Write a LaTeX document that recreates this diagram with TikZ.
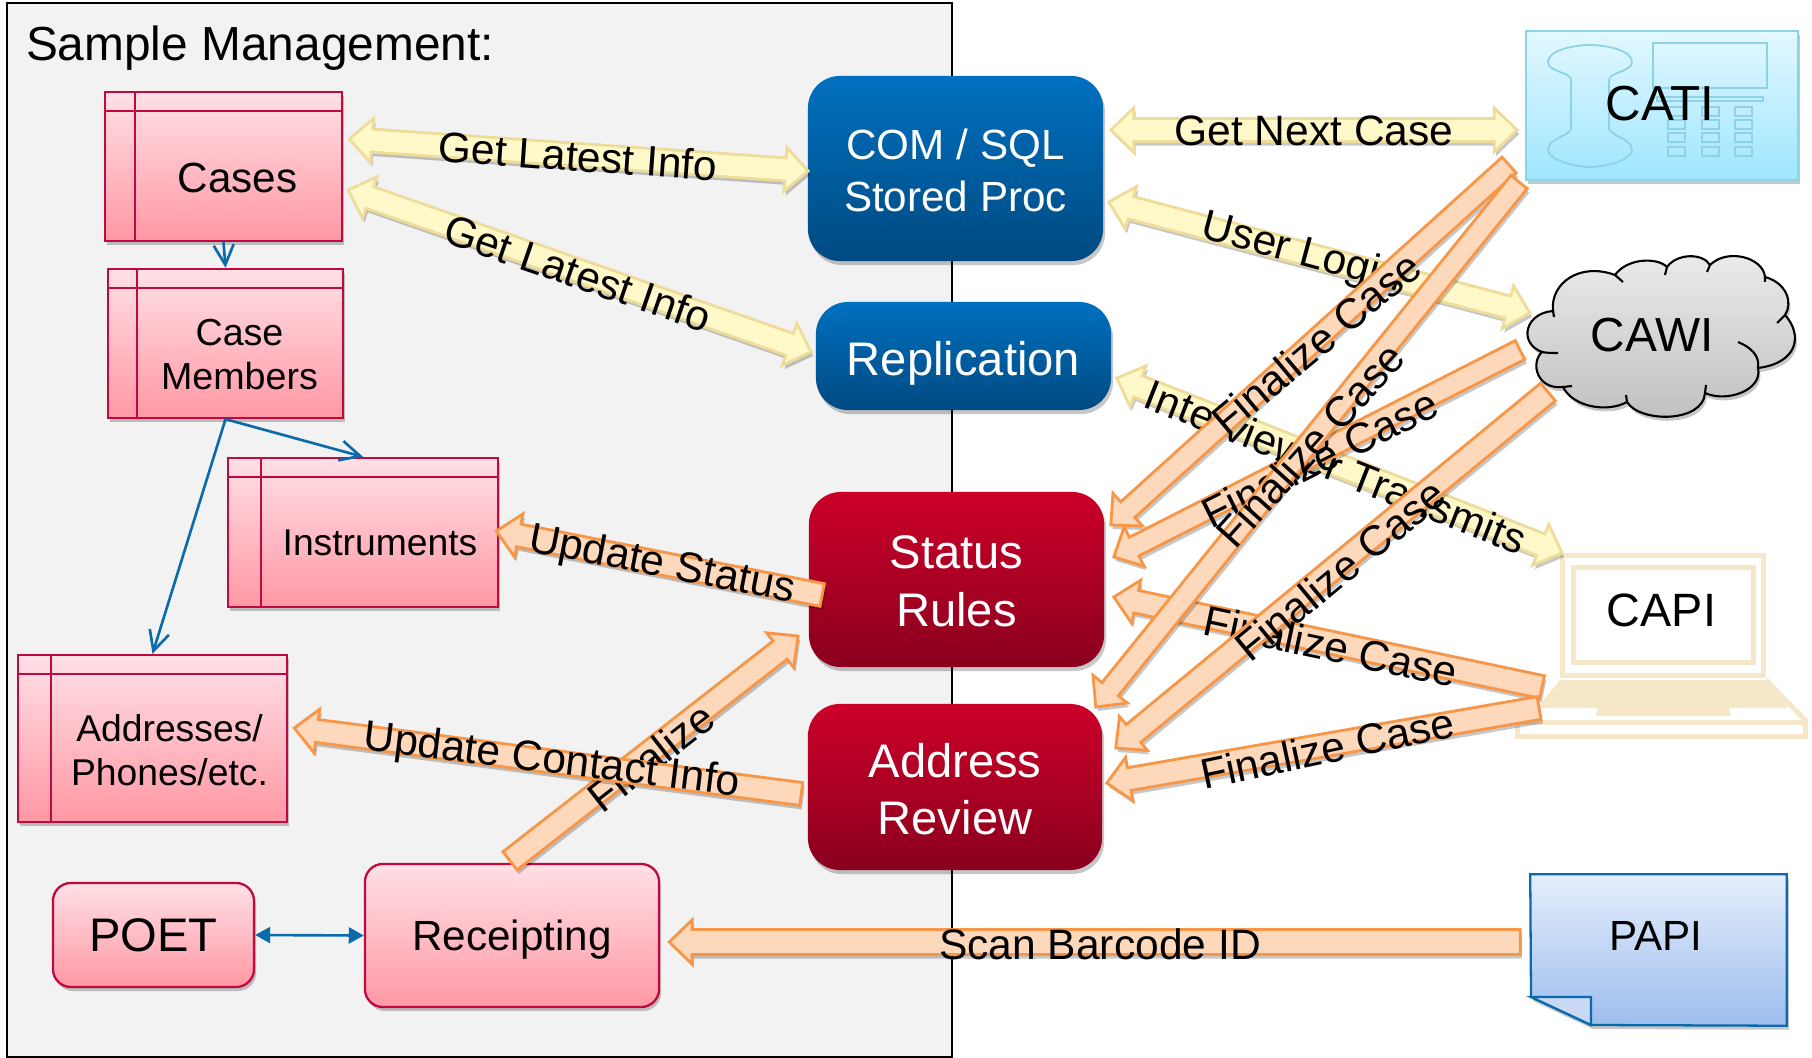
\documentclass[tikz,border=0pt]{standalone}
\usepackage{fontspec}
\setmainfont{Liberation Sans}
\usepackage{tikz}
\usetikzlibrary{calc}
\usetikzlibrary{positioning, shadows, arrows.meta}
\definecolor{panel_gray}{HTML}{F2F2F2}
\definecolor{table_red}{HTML}{BE0A40}
\definecolor{pink_top}{HTML}{FFE0E6}
\definecolor{pink_bot}{HTML}{FF98A4}
\definecolor{blue_top}{HTML}{0070C0}
\definecolor{blue_bot}{HTML}{004A80}
\definecolor{red_top}{HTML}{CC0029}
\definecolor{red_bot}{HTML}{8A001E}
\definecolor{link_blue}{HTML}{0A6AAA}
\definecolor{yellow_line}{HTML}{EEDC9A}
\definecolor{yellow_fill}{HTML}{FFF8C8}
\definecolor{orange_line}{HTML}{F79646}
\definecolor{orange_fill}{HTML}{FDD8BA}
\definecolor{phone_line}{HTML}{8ED2E6}
\definecolor{phone_top}{HTML}{E2F8FF}
\definecolor{phone_bot}{HTML}{9FE6FF}
\definecolor{sheet_top}{HTML}{E6EEFC}
\definecolor{sheet_bot}{HTML}{9DBDEE}
\definecolor{sheet_fold}{HTML}{C8D8F5}
\definecolor{laptop_col}{HTML}{F5E7C8}
\begin{document}
\begin{tikzpicture}[x=.01cm,y=-.01cm,
	soft_shadow/.style={drop shadow={shadow xshift=.02cm,shadow yshift=-.04cm,fill=black,opacity=.22}},
	table_node/.style={rectangle,draw=table_red,line width=.65pt,top color=pink_top,bottom color=pink_bot,inner sep=0pt,soft_shadow,
		path picture={\draw[table_red,line width=.65pt] ($(path picture bounding box.north west)+(#1,0)$) -- ($(path picture bounding box.south west)+(#1,0)$)
			($(path picture bounding box.north west)+(0,19)$) -- ($(path picture bounding box.north east)+(0,19)$);}},
	table_node/.default=30,
	pink_node/.style={rectangle,rounded corners=.18cm,draw=table_red,line width=.65pt,top color=pink_top,bottom color=pink_bot,soft_shadow},
	blue_node/.style={rectangle,rounded corners=.32cm,draw=none,top color=blue_top,bottom color=blue_bot,soft_shadow},
	red_node/.style={rectangle,rounded corners=.32cm,draw=none,top color=red_top,bottom color=red_bot,soft_shadow},
	big_text/.style={font=\fontsize{13.4}{16.4}\selectfont,align=center},
	mid_text/.style={font=\fontsize{12}{14.8}\selectfont,align=center},
	small_text/.style={font=\fontsize{10.6}{12.6}\selectfont,align=center},
	arrow_text/.style={font=\fontsize{12.1}{14}\selectfont,inner sep=0pt},
	link/.style={link_blue,line width=.75pt},
	yellow_arrow/.style={draw=yellow_line,fill=yellow_fill,line width=.8pt,soft_shadow},
	orange_arrow/.style={draw=orange_line,fill=orange_fill,line width=.8pt,soft_shadow},
	block_single/.style={to path={let \p1=(\tikztostart),\p2=(\tikztotarget),\n1={atan2(\y2-\y1,\x2-\x1)},\n2={veclen(\x2-\x1,\y2-\y1)},\n3={\n2-6.5} in
		{[shift={(\p1)},rotate=\n1] (0pt,-#1) -- (\n3,-#1) -- (\n3,-.22cm) -- (\n2,0pt) -- (\n3,.22cm) -- (\n3,#1) -- (0pt,#1) -- cycle}}},
	block_single/.default=.115cm,
	block_double/.style={to path={let \p1=(\tikztostart),\p2=(\tikztotarget),\n1={atan2(\y2-\y1,\x2-\x1)},\n2={veclen(\x2-\x1,\y2-\y1)},\n3={\n2-6.5} in
		{[shift={(\p1)},rotate=\n1] (0pt,0pt) -- (6.5pt,-.22cm) -- (6.5pt,-.115cm) -- (\n3,-.115cm) -- (\n3,-.22cm) -- (\n2,0pt) -- (\n3,.22cm) -- (\n3,.115cm) -- (6.5pt,.115cm) -- (6.5pt,.22cm) -- cycle}}}]

	\useasboundingbox (0,0) rectangle (1812,1058);

	% sample management panel
	\node[rectangle,draw=black,line width=.55pt,fill=panel_gray,minimum width=9.45cm,minimum height=10.54cm] (panel) at (479.5,530) {};
	\node[font=\fontsize{13.6}{16}\selectfont,inner sep=0pt] (title) at (260,48) {Sample Management:};

	% tables
	\node[table_node,minimum width=2.37cm,minimum height=1.49cm,label={[mid_text,xshift=.14cm,yshift=-.11cm]center:Cases}] (cases) at (223.5,166.5) {};
	\node[table_node=29,minimum width=2.35cm,minimum height=1.49cm,label={[small_text,font=\fontsize{10.7}{12.6}\selectfont,xshift=.14cm,yshift=-.11cm]center:Case\\Members}] (members) at (225.5,343.5) {};
	\node[table_node=33,minimum width=2.7cm,minimum height=1.49cm,label={[small_text,xshift=.17cm,yshift=-.1cm]center:Instruments}] (instruments) at (363,532.5) {};
	\node[table_node=33,minimum width=2.69cm,minimum height=1.67cm,label={[small_text,xshift=.17cm,yshift=-.12cm]center:Addresses/\\Phones/etc.}] (addresses) at (152.5,738.5) {};

	\node[pink_node,minimum width=2.01cm,minimum height=1.04cm,big_text] (poet) at (153.5,935) {POET};
	\node[pink_node,minimum width=2.94cm,minimum height=1.43cm,mid_text,text depth=0pt] (receipting) at (512,935.5) {Receipting};

	% stored procs and rules
	\node[blue_node,minimum width=2.95cm,minimum height=1.85cm,label={[mid_text,text=white,yshift=-.02cm]center:COM / SQL\\Stored Proc}] (com) at (955.5,168.5) {};
	\node[blue_node,minimum width=2.95cm,minimum height=1.08cm,label={[big_text,text=white,text depth=0pt,yshift=-.02cm]center:Replication}] (replication) at (963.5,356) {};
	\node[red_node,minimum width=2.95cm,minimum height=1.75cm,label={[big_text,text=white,yshift=-.02cm]center:Status\\Rules}] (status) at (956.5,579.5) {};
	\node[red_node,minimum width=2.94cm,minimum height=1.66cm,label={[big_text,text=white,yshift=-.02cm]center:Address\\Review}] (review) at (955,787) {};

	% CATI with the phone
	\node[rectangle,draw=phone_line,line width=.5pt,top color=phone_top,bottom color=phone_bot,minimum width=2.72cm,minimum height=1.49cm,soft_shadow] (cati) at (1662,105.5) {};
	\draw[phone_line,line width=.5pt] (1571,80) .. controls (1571,72) and (1548,72) .. (1548,62) .. controls (1548,50) and (1575,45) .. (1590,45) .. controls (1605,45) and (1632,50) .. (1632,62) .. controls (1632,72) and (1609,72) .. (1609,80) -- (1609,128) .. controls (1609,136) and (1632,138) .. (1632,150) .. controls (1632,160) and (1605,167) .. (1590,167) .. controls (1575,167) and (1548,160) .. (1548,150) .. controls (1548,138) and (1571,136) .. (1571,128) -- cycle;
	\draw[phone_line,line width=.5pt] (1653,43) rectangle (1767,88) (1657,97) rectangle (1763,101);
	\foreach \keyx in {1668,1702,1735}
		\foreach \keyy in {107,120,133,147}
			\draw[phone_line,line width=.5pt] (\keyx,\keyy) rectangle ++(17,9);
	\node[font=\fontsize{14}{16}\selectfont,inner sep=0pt] (catitext) at (1660,104) {CATI};

	% CAWI cloud
	\path[draw=black,line width=.6pt,top color=gray!15,bottom color=gray!50,soft_shadow] (1553,311)
		.. controls (1550,283) and (1580,262) .. (1615,275)
		.. controls (1627,258) and (1657,257) .. (1667,267)
		.. controls (1677,253) and (1703,253) .. (1710,265)
		.. controls (1727,248) and (1763,257) .. (1765,277)
		.. controls (1787,283) and (1793,303) .. (1785,315)
		.. controls (1803,335) and (1798,363) .. (1758,368)
		.. controls (1763,390) and (1727,403) .. (1705,393)
		.. controls (1703,423) and (1640,423) .. (1627,402)
		.. controls (1607,413) and (1573,407) .. (1563,387)
		.. controls (1537,390) and (1530,363) .. (1542,352)
		.. controls (1518,343) and (1525,313) .. (1553,311) -- cycle;
	\draw[black,line width=.6pt] (1615,275) -- (1623,282) (1667,267) -- (1665,275) (1710,265) -- (1707,272) (1765,277) -- (1765,282) (1785,315) -- (1777,323)
		(1758,368) .. controls (1760,355) and (1750,347) .. (1738,342) (1705,393) -- (1706,385) (1627,402) -- (1626,395) (1563,387) -- (1572,386)
		(1542,352) .. controls (1547,353) and (1552,353) .. (1558,353) (1553,311) -- (1554,317);
	\node[font=\fontsize{13.6}{16}\selectfont,inner sep=0pt] (cawi) at (1652,335) {CAWI};

	% CAPI laptop
	\draw[draw=laptop_col,line width=1.35pt] (1562.5,555.5) rectangle (1763.5,675.5);
	\node[rectangle,draw=laptop_col,line width=1.35pt,minimum width=1.8cm,minimum height=.95cm,inner sep=0pt,label={[font=\fontsize{13.3}{15}\selectfont,xshift=-.02cm,yshift=.05cm]center:CAPI}] (capi) at (1663.5,615) {};
	\fill[laptop_col] (1560,680) -- (1766,680) -- (1788,708) -- (1537,708) -- cycle;
	\fill[laptop_col] (1598,708) -- (1729,708) -- (1731,716) -- (1596,716) -- cycle;
	\draw[draw=laptop_col,line width=1.35pt] (1517.5,722.5) rectangle (1805.5,736.5) (1766,680) -- (1807,722);

	% PAPI sheet
	\node[rectangle,minimum width=2.55cm,minimum height=1.5cm,inner sep=0pt] (papi) at (1658.5,950) {};
	\path[draw=link_blue,line width=.65pt,top color=sheet_top,bottom color=sheet_bot,soft_shadow] (papi.north west) -- (papi.north east) -- (papi.south east) -- (1591,1025) -- (1531,997) -- cycle;
	\path[draw=link_blue,line width=.65pt,fill=sheet_fold] (1531,997) -- (1591,997) -- (1591,1025) -- cycle;
	\node[font=\fontsize{12}{14}\selectfont,inner sep=0pt] (papitext) at (1656,936) {PAPI};

	% table links
	\draw[link,-{Straight Barb[length=.2cm,width=.2cm]}] (cases.south) -- (members.north);
	\draw[link,-{Straight Barb[length=.2cm,width=.2cm]}] (members.south) -- (instruments.north);
	\draw[link,-{Straight Barb[length=.2cm,width=.2cm]}] (members.south) -- (addresses.north);
	\draw[link,{Triangle[length=.15cm,width=.16cm]}-{Triangle[length=.15cm,width=.16cm]}] (poet.east) -- (receipting.west);

	% yellow arrows
	\draw[yellow_arrow,block_double] ([shift={(6,-27.5)}]cases.east) to ([shift={(1,2.5)}]com.west);
	\node[arrow_text,rotate=-4] (latest_a) at (578,156) {Get Latest Info};
	\draw[yellow_arrow,block_double] ([shift={(5,23.5)}]cases.east) to ([shift={(-4,-4)}]replication.west);
	\node[arrow_text,rotate=-19] (latest_b) at (578,273) {Get Latest Info};
	\draw[yellow_arrow,block_double] ([shift={(7,-38.5)}]com.east) to ([shift={(-8,24.5)}]cati.west);
	\node[arrow_text] (nextcase) at (1314,131) {Get Next Case};
	\draw[yellow_arrow,block_double] ([shift={(5,33.5)}]com.east) to ([shift={(-122,-22)}]cawi.center);
	\node[arrow_text,rotate=-15] (login) at (1302,254) {User Login};
	\draw[yellow_arrow,block_double] ([shift={(5,22)}]replication.east) to ([shift={(-9,-12)}]capi.north west);
	\node[arrow_text,rotate=-21.5] (transmits) at (1336,467) {Interviewer Transmits};

	% orange arrows
	\draw[orange_arrow,block_single] ([shift={(14,15.5)}]status.west) to ([shift={(-3,-1.5)}]instruments.east);
	\node[arrow_text,rotate=-11] (update_a) at (662,566) {Update Status};
	\draw[orange_arrow,block_single] ([shift={(-2,-2)}]receipting.north) to ([shift={(-10,56.5)}]status.west);
	\node[arrow_text,rotate=38] (finalize) at (651,757) {Finalize};
	\draw[orange_arrow,block_single] ([shift={(-6,7)}]review.west) to ([shift={(6,-10.5)}]addresses.east);
	\node[arrow_text,rotate=-7] (update_b) at (552,762) {Update Contact Info};
	\draw[orange_arrow,block_single=.105cm] ([shift={(-16,59.5)}]cati.west) to ([shift={(6,-54.5)}]status.east);
	\node[arrow_text,rotate=40] (final_a) at (1316,343) {Finalize Case};
	\draw[orange_arrow,block_single=.105cm] ([shift={(-132,15)}]cawi.center) to ([shift={(9,-22.5)}]status.east);
	\node[arrow_text,rotate=26.5] (final_b) at (1320,458) {Finalize Case};
	\draw[orange_arrow,block_single] ([shift={(-121.5,72)}]capi.center) to ([shift={(9,17.5)}]status.east);
	\node[arrow_text,rotate=-12] (final_e) at (1331,646) {Finalize Case};
	\draw[orange_arrow,block_single=.105cm] ([shift={(-6,76.5)}]cati.west) to ([shift={(-7,-80)}]review.east);
	\node[arrow_text,rotate=48] (final_c) at (1310,445) {Finalize Case};
	\draw[orange_arrow,block_single] ([shift={(-104,57)}]cawi.center) to ([shift={(13,-39)}]review.east);
	\node[arrow_text,rotate=39.5] (final_d) at (1340,570) {Finalize Case};
	\draw[orange_arrow,block_single] ([shift={(-124.5,93)}]capi.center) to ([shift={(4,-4)}]review.east);
	\node[arrow_text,rotate=12] (final_f) at (1327,748) {Finalize Case};
	\draw[orange_arrow,block_single=.125cm] ([shift={(-10,-8)}]papi.west) to ([shift={(9,6.5)}]receipting.east);
	\node[arrow_text] (barcode) at (1100,944) {Scan Barcode ID};
\end{tikzpicture}
\end{document}
